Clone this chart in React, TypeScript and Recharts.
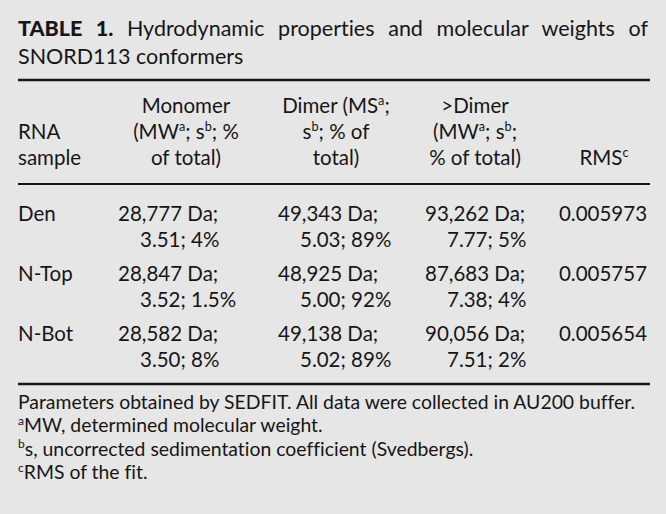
import { ReferenceLine, Scatter, ScatterChart, XAxis, YAxis } from 'recharts'

// Table 1 — SNORD113 conformers, drawn as text marks on a hidden x/y plane.

const W = 666
const H = 514
const INK = '#161616'
const BG = '#e6e6e6'
const FONT = 'Lato, "Open Sans", sans-serif'

const samples = ['Den', 'N-Top', 'N-Bot']
const monomerMw = ['28,777', '28,847', '28,582']
const monomerS = ['3.51', '3.52', '3.50']
const monomerPct = ['4%', '1.5%', '8%']
const dimerMw = ['49,343', '48,925', '49,138']
const dimerS = ['5.03', '5.00', '5.02']
const dimerPct = ['89%', '92%', '89%']
const higherMw = ['93,262', '87,683', '90,056']
const higherS = ['7.77', '7.38', '7.51']
const higherPct = ['5%', '4%', '2%']
const rms = ['0.005973', '0.005757', '0.005654']

// "^x" = superscript x
const headerLines = [
  ['', 'RNA', 'sample'],
  ['Monomer', '(MW^a; s^b; %', 'of total)'],
  ['Dimer (MS^a;', 's^b; % of', 'total)'],
  ['>Dimer', '(MW^a; s^b;', '% of total)'],
  ['', '', 'RMS^c'],
]
const footnotes = [
  'Parameters obtained by SEDFIT. All data were collected in AU200 buffer.',
  '^aMW, determined molecular weight.',
  '^bs, uncorrected sedimentation coefficient (Svedbergs).',
  '^cRMS of the fit.',
]
const titleBold = 'TABLE 1.'
const titleLine1 = 'Hydrodynamic properties and molecular weights of'
const titleLine2 = 'SNORD113 conformers'

// layout
const LEFT = 18
const RIGHT = 650
const HEAD_X = [18, 186, 336, 475, 604]
const CELL_X = [18, 118, 278, 425, 603]
const INDENT = 22
const HEAD_Y = [113, 139, 165]
const ROW_Y = 221
const ROW_STEP = 60
const LINE_STEP = 26
const NOTE_Y = 409
const NOTE_STEP = 23.4
const BODY_SIZE = 20.5
const NOTE_SIZE = 19.4
const TITLE_SIZE = 21.5
const NO_LIGA = { fontVariantLigatures: 'none' as const }

type Anchor = 'start' | 'middle' | 'end'
type Cell = { x: number; y: number; text: string; anchor: Anchor; size: number }

function buildCells(): Cell[] {
  const cells: Cell[] = []
  headerLines.forEach((lines, c) => {
    lines.forEach((t, l) => {
      if (!t) return
      cells.push({ x: HEAD_X[c], y: HEAD_Y[l], text: t, anchor: c === 0 ? 'start' : 'middle', size: BODY_SIZE })
    })
  })
  const groups = [
    [monomerMw, monomerS, monomerPct],
    [dimerMw, dimerS, dimerPct],
    [higherMw, higherS, higherPct],
  ]
  samples.forEach((s, r) => {
    const y = ROW_Y + r * ROW_STEP
    cells.push({ x: CELL_X[0], y, text: s, anchor: 'start', size: BODY_SIZE })
    groups.forEach(([mw, sv, pct], g) => {
      cells.push({ x: CELL_X[g + 1], y, text: `${mw[r]} Da;`, anchor: 'start', size: BODY_SIZE })
      cells.push({ x: CELL_X[g + 1] + INDENT, y: y + LINE_STEP, text: `${sv[r]}; ${pct[r]}`, anchor: 'start', size: BODY_SIZE })
    })
    cells.push({ x: CELL_X[4], y, text: rms[r], anchor: 'middle', size: BODY_SIZE })
  })
  footnotes.forEach((t, i) => {
    cells.push({ x: LEFT, y: NOTE_Y + i * NOTE_STEP, text: t, anchor: 'start', size: NOTE_SIZE })
  })
  return cells
}

const cells = buildCells()

function rich(text: string, size: number) {
  const parts = text.split(/\^(.)/)
  const lift = size * 0.38
  const out: any[] = []
  let raised = false
  parts.forEach((p, i) => {
    if (i % 2 === 1) {
      out.push(
        <tspan key={i} fontSize={size * 0.62} dy={-lift}>
          {p}
        </tspan>,
      )
      raised = true
    } else if (p) {
      out.push(
        <tspan key={i} dy={raised ? lift : 0}>
          {p}
        </tspan>,
      )
      raised = false
    }
  })
  return out
}

const TextMark = (props: any) => {
  const { cx, cy, payload } = props
  return (
    <text x={cx} y={cy} textAnchor={payload.anchor} fontSize={payload.size} fontFamily={FONT} fill={INK} style={NO_LIGA}>
      {rich(payload.text, payload.size)}
    </text>
  )
}

export default function App() {
  return (
    <div style={{ position: 'absolute', left: 0, top: 0, width: W, height: H, background: BG, fontFamily: FONT, color: INK }}>
      <div style={{ position: 'absolute', left: LEFT, top: 14, width: 630, fontSize: TITLE_SIZE, lineHeight: '28px', ...NO_LIGA }}>
        <div style={{ textAlign: 'justify', textAlignLast: 'justify' }}>
          <b style={{ fontWeight: 900 }}>{titleBold}</b> {titleLine1}
        </div>
        <div>{titleLine2}</div>
      </div>
      <ScatterChart width={W} height={H} margin={{ top: 0, right: 0, bottom: 0, left: 0 }} style={{ position: 'absolute', left: 0, top: 0 }}>
        <XAxis type="number" dataKey="x" domain={[0, W]} allowDataOverflow hide />
        <YAxis type="number" dataKey="y" domain={[0, H]} allowDataOverflow reversed hide />
        <ReferenceLine segment={[{ x: LEFT, y: 80 }, { x: RIGHT, y: 80 }]} stroke={INK} strokeWidth={2.5} />
        <ReferenceLine segment={[{ x: LEFT, y: 184 }, { x: RIGHT, y: 184 }]} stroke={INK} strokeWidth={2} />
        <ReferenceLine segment={[{ x: LEFT, y: 384 }, { x: RIGHT, y: 384 }]} stroke={INK} strokeWidth={2.5} />
        <Scatter data={cells} shape={TextMark} isAnimationActive={false} />
      </ScatterChart>
    </div>
  )
}
